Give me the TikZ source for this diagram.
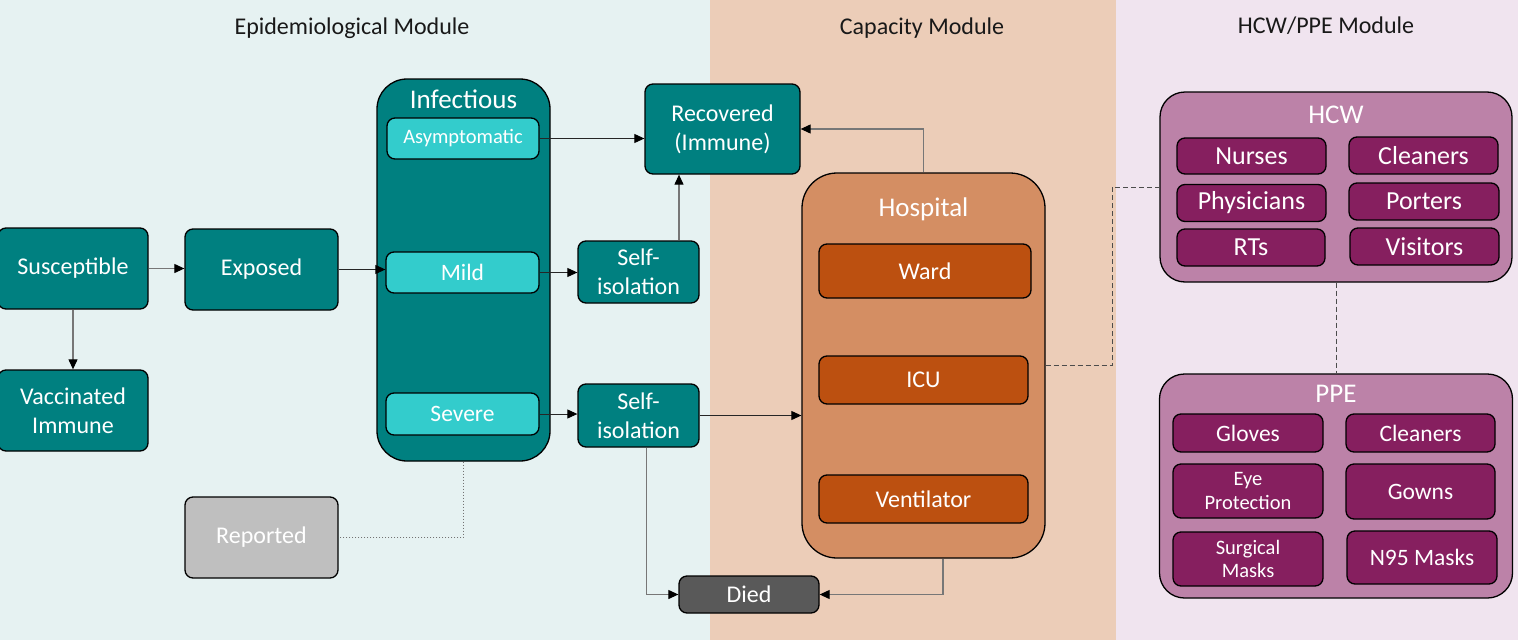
\documentclass[tikz,border=0pt]{standalone}
\usepackage{fontspec}
\setmainfont{Carlito}
\usetikzlibrary{arrows.meta}
\definecolor{epibg}{HTML}{E6F2F2}
\definecolor{capbg}{HTML}{ECCDB8}
\definecolor{hcwbg}{HTML}{F0E4EF}
\definecolor{teal}{HTML}{008080}
\definecolor{cyanbox}{HTML}{33CCCC}
\definecolor{repgray}{HTML}{BFBFBF}
\definecolor{diedgray}{HTML}{595959}
\definecolor{hospfill}{HTML}{D48E63}
\definecolor{wardfill}{HTML}{BC5010}
\definecolor{hcwfill}{HTML}{BC82A8}
\definecolor{itemfill}{HTML}{861F5F}
\definecolor{linegray}{HTML}{777777}
\tikzset{
  fnt/.style={font=\fontsize{#1}{#1}\selectfont},
  basebox/.style={draw=black, line width=1.3pt, rounded corners=8pt, inner sep=0pt, text=white, align=center},
  tealbox/.style={basebox, fill=teal, fnt=24},
  subbox/.style={basebox, fill=cyanbox, fnt=23.5},
  wardbox/.style={basebox, fill=wardfill, fnt=24},
  itembox/.style={basebox, fill=itemfill, fnt=26},
  ppeitem/.style={basebox, fill=itemfill, fnt=23.5},
  container/.style={basebox, rounded corners=#1},
  ctitle/.style={fnt=27, text=white},
  arr/.style={-{Triangle[length=10pt,width=9pt,color=black]}, line width=0.9pt, draw=black!85},
  garr/.style={arr, draw=linegray, line width=1.1pt},
  dashline/.style={draw=black!70, line width=0.9pt, dash pattern=on 5pt off 3pt},
  dotline/.style={draw=black!55, line width=1pt, dotted},
  modtitle/.style={fnt=24, text=black!90}
}
\begin{document}
\begin{tikzpicture}[x=1pt,y=-1pt]
\useasboundingbox (0,0) rectangle (1518,640);
% backgrounds
\fill[epibg] (0,0) rectangle (710,640);
\fill[capbg] (710,0) rectangle (1116,640);
\fill[hcwbg] (1116,0) rectangle (1518,640);
\node[modtitle] (t1) at (352,28) {Epidemiological Module};
\node[modtitle] (t2) at (922,28) {Capacity Module};
\node[modtitle] (t3) at (1326,26) {HCW/PPE Module};

% epidemiological
\node[tealbox, minimum width=150pt, minimum height=81pt] (sus) at (73,268.5) {Susceptible};
\node[tealbox, minimum width=153pt, minimum height=81pt] (exp) at (261.5,269.5) {Exposed};
\node[tealbox, minimum width=150pt, minimum height=81pt] (vac) at (73,410.5) {Vaccinated\\[5pt]Immune};
\node[container=30pt, fill=teal, minimum width=173pt, minimum height=382pt] (inf) at (463.5,270) {};
\node[ctitle] (inftitle) at (463.5,99) {Infectious};
\node[subbox, fnt=20.5, minimum width=152pt, minimum height=41pt] (asym) at (463,138.5) {Asymptomatic};
\node[subbox, minimum width=153pt, minimum height=41pt] (mild) at (462.5,272.5) {Mild};
\node[subbox, minimum width=153pt, minimum height=42pt] (sev) at (462.5,414) {Severe};
\node[tealbox, minimum width=155pt, minimum height=90pt] (rec) at (722.5,129) {Recovered\\[5pt](Immune)};
\node[tealbox, minimum width=121pt, minimum height=62pt] (si1) at (638.5,272) {Self-\\[5pt]isolation};
\node[tealbox, minimum width=121pt, minimum height=63pt] (si2) at (638.5,415.5) {Self-\\[5pt]isolation};
\node[basebox, fill=repgray, fnt=24, minimum width=153pt, minimum height=81pt] (rep) at (261.5,537.5) {Reported};
\node[basebox, fill=diedgray, fnt=24, minimum width=140pt, minimum height=37pt] (died) at (749,594.5) {Died};

% capacity
\node[container=35pt, fill=hospfill, minimum width=243pt, minimum height=385pt] (hosp) at (923.5,365.5) {};
\node[ctitle] (hosptitle) at (923.5,209) {Hospital};
\node[wardbox, minimum width=212pt, minimum height=54pt] (ward) at (925,271) {Ward};
\node[wardbox, minimum width=209pt, minimum height=48pt] (icu) at (923.5,380) {ICU};
\node[wardbox, minimum width=209pt, minimum height=48pt] (vent) at (923.5,499) {Ventilator};

% HCW / PPE
\node[container=25pt, fill=hcwfill, minimum width=352pt, minimum height=190pt] (hcw) at (1336,187) {};
\node[ctitle] (hcwtitle) at (1336,115) {HCW};
\node[itembox, minimum width=149pt, minimum height=36pt] (nurses) at (1251.5,156) {Nurses};
\node[itembox, minimum width=149pt, minimum height=37pt] (clean1) at (1423.5,155.5) {Cleaners};
\node[itembox, minimum width=149pt, minimum height=37pt] (phys) at (1251.5,203) {Physicians};
\node[itembox, minimum width=150pt, minimum height=37pt] (port) at (1424,201.5) {Porters};
\node[itembox, minimum width=148pt, minimum height=37pt] (rts) at (1251,247.5) {RTs};
\node[itembox, minimum width=149pt, minimum height=37pt] (vis) at (1424.5,246.5) {Visitors};

\node[container=25pt, fill=hcwfill, minimum width=353pt, minimum height=224pt] (ppe) at (1336,486) {};
\node[ctitle] (ppetitle) at (1336,394) {PPE};
\node[ppeitem, minimum width=150pt, minimum height=38pt] (glov) at (1248,433) {Gloves};
\node[ppeitem, minimum width=149pt, minimum height=38pt] (clean2) at (1420.5,433) {Cleaners};
\node[ppeitem, fnt=20.5, minimum width=150pt, minimum height=54pt] (eye) at (1248,491) {Eye\\[3pt]Protection};
\node[ppeitem, minimum width=149pt, minimum height=55pt] (gown) at (1420.5,491.5) {Gowns};
\node[ppeitem, fnt=20.5, minimum width=150pt, minimum height=54pt] (surg) at (1248,559) {Surgical\\[3pt]Masks};
\node[ppeitem, minimum width=150pt, minimum height=53pt] (n95) at (1422,557.5) {N95 Masks};

% connectors
\draw[garr] (sus.east) -- (sus.east -| exp.west);
\draw[garr] (sus.south) -- (vac.north);
\draw[arr] (exp.east) -- (exp.east -| mild.west);
\draw[arr] (asym.east) -- (asym.east -| rec.west);
\draw[arr] (mild.east) -- (mild.east -| si1.west);
\draw[garr] ([xshift=40.5pt]si1.north) -- ([xshift=40.5pt]si1.north |- rec.south);
\draw[arr] (sev.east) -- (sev.east -| si2.west);
\draw[arr] (si2.east) -- (si2.east -| hosp.west);
\draw[garr] ([xshift=8pt]si2.south) |- (died.west);
\draw[garr] (hosp.north) |- (rec.east);
\draw[garr] ([xshift=19.5pt]hosp.south) |- (died.east);
\draw[dotline] (inf.south) |- (rep.east);
\coordinate (bend) at (1112,0);
\draw[dashline] (hosp.east) -| (bend |- hcw.west) -- (hcw.west);
\draw[dashline] (hcw.south) -- (ppe.north);
\end{tikzpicture}
\end{document}
